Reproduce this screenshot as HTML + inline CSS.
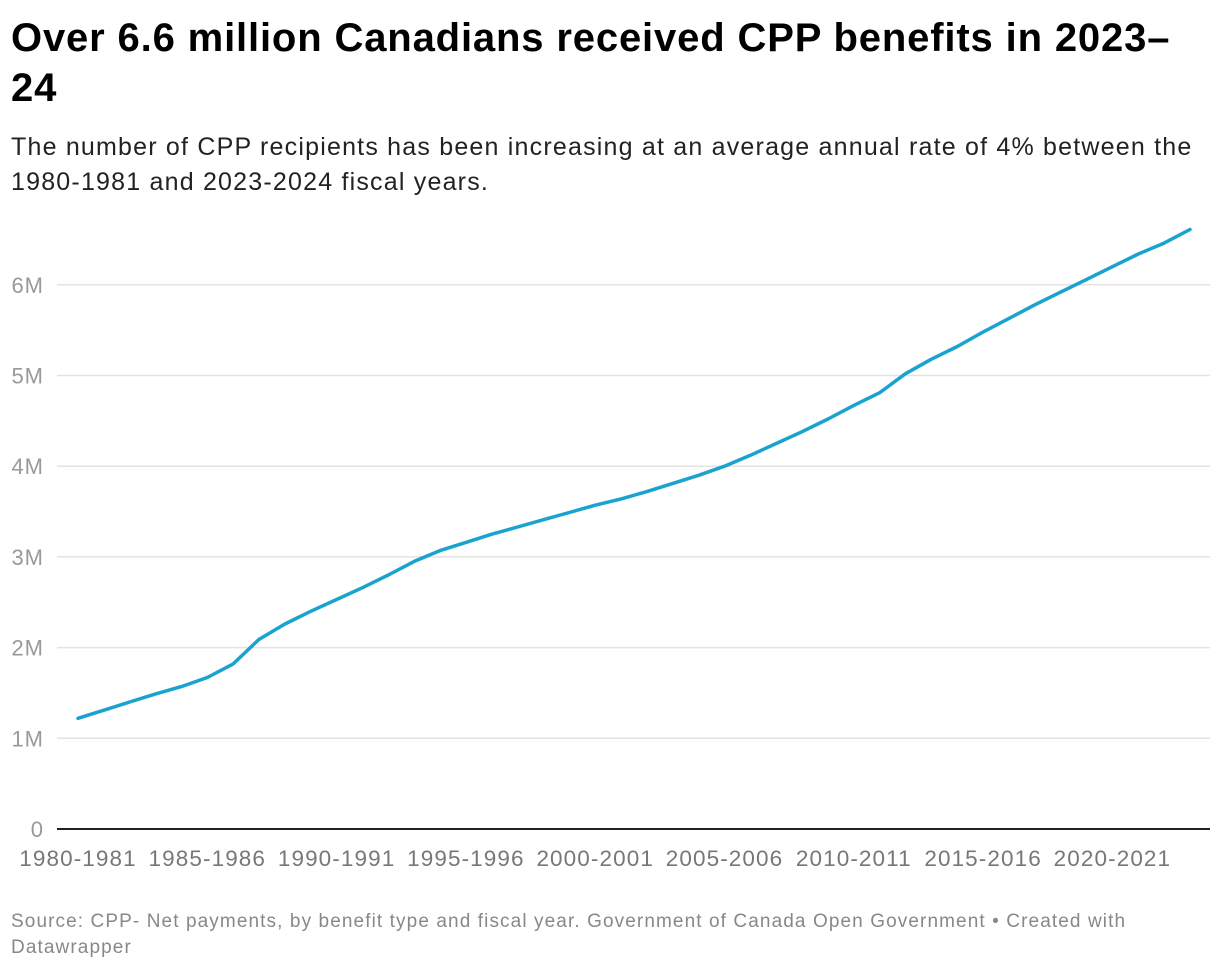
<!DOCTYPE html>
<html><head><meta charset="utf-8"><style>
body{margin:0;background:#fff;width:1220px;height:972px;overflow:hidden;font-family:"Liberation Sans",sans-serif;}
#title{position:absolute;left:11px;top:13px;width:1210px;font-size:40px;font-weight:bold;line-height:50px;color:#000;margin:0;letter-spacing:0.85px;white-space:nowrap}
#sub{position:absolute;left:11px;top:130px;width:1210px;font-size:25px;line-height:35px;color:#222;margin:0;letter-spacing:1.2px;white-space:nowrap}
#foot{position:absolute;left:11px;top:909px;width:1210px;font-size:19px;line-height:26px;color:#888;letter-spacing:1.1px;white-space:nowrap}
svg{position:absolute;left:0;top:0}
</style></head><body>
<h1 id="title">Over 6.6 million Canadians received CPP benefits in 2023–<br>24</h1>
<p id="sub">The number of CPP recipients has been increasing at an average annual rate of 4% between the<br>1980-1981 and 2023-2024 fiscal years.</p>
<svg id="chart" width="1220" height="972"></svg>
<div id="foot">Source: CPP- Net payments, by benefit type and fiscal year. Government of Canada Open Government • Created with<br>Datawrapper</div>
<script>
const startYear = 1980;
const values = [1.22,1.31,1.40,1.49,1.57,1.67,1.82,2.09,2.26,2.40,2.53,2.66,2.80,2.95,3.07,3.16,3.25,3.33,3.41,3.49,3.57,3.64,3.72,3.81,3.90,4.00,4.12,4.25,4.38,4.52,4.67,4.81,5.02,5.18,5.32,5.48,5.63,5.78,5.92,6.06,6.20,6.34,6.46,6.61];
const yTicks = [0,1,2,3,4,5,6];
const yTickLabels = ["0","1M","2M","3M","4M","5M","6M"];
const xTickIdx = [0,5,10,15,20,25,30,35,40];
const xTickLabels = ["1980-1981","1985-1986","1990-1991","1995-1996","2000-2001","2005-2006","2010-2011","2015-2016","2020-2021"];

const NS="http://www.w3.org/2000/svg";
const svg=document.getElementById('chart');
const x0=78,x1=1190,yb=829,pxPerM=90.7;
const X=i=>x0+(x1-x0)*i/(values.length-1);
const Y=v=>yb-v*pxPerM;
function mk(t,a){const e=document.createElementNS(NS,t);for(const k in a)e.setAttribute(k,a[k]);svg.appendChild(e);return e;}
yTicks.forEach((t,k)=>{
  if(t>0){const g=mk('line',{x1:57,x2:1210,y1:Y(t),y2:Y(t),stroke:'#e3e3e3','stroke-width':1.5});
  
  }
  const l=mk('text',{x:44,y:Y(t)+8,'text-anchor':'end','font-size':22,'letter-spacing':1,fill:'#999','font-family':'Liberation Sans, sans-serif'});
  l.textContent=yTickLabels[k];
  
  
});
const ax=mk('line',{x1:57,x2:1210,y1:yb,y2:yb,stroke:'#222','stroke-width':2});


xTickIdx.forEach((idx,k)=>{
  const l=mk('text',{x:X(idx),y:866,'text-anchor':'middle','font-size':22.5,'letter-spacing':1.1,fill:'#777','font-family':'Liberation Sans, sans-serif'});
  l.textContent=xTickLabels[k];
  
  
});
const d=values.map((v,i)=>(i?'L':'M')+X(i).toFixed(1)+','+Y(v).toFixed(1)).join(' ');
const p=mk('path',{d:d,fill:'none',stroke:'#1aa3d0','stroke-width':3.5,'stroke-linejoin':'round','stroke-linecap':'round'});


</script>
</body></html>
